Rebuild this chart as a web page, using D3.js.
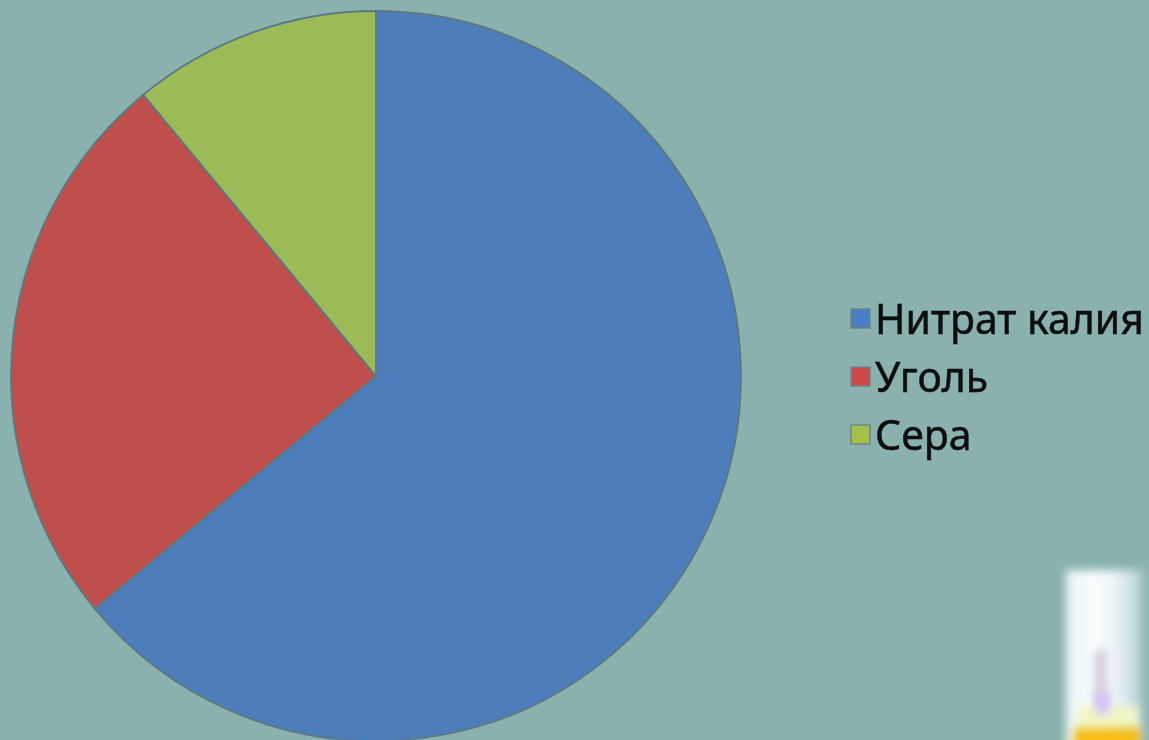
<!DOCTYPE html>
<html lang="ru">
<head>
<meta charset="utf-8">
<script src="https://d3js.org/d3.v7.min.js"></script>
<style>
  html, body { margin: 0; padding: 0; background: #8ab1ad; overflow: hidden; }
  svg { display: block; }
  text { font-family: "Noto Sans", "DejaVu Sans", sans-serif; }
</style>
</head>
<body>
<svg id="chart" width="1149" height="740"></svg>
<script>
// Composition of black powder, share of each component in percent
const categories = ["Нитрат калия", "Уголь", "Сера"];
const shares = [64, 25, 11];
const sliceColors = ["#4d7ebb", "#bf504d", "#9bbb59"];
const swatchColors = ["#4a7fc4", "#cf4a4a", "#a3c048"];

const svg = d3.select("#chart");
const defs = svg.append("defs");

// Soft edges for the legend and the glass cylinder in the corner
defs.append("filter").attr("id", "soft").append("feGaussianBlur").attr("stdDeviation", 0.7);
defs.append("filter").attr("id", "softSlice").append("feGaussianBlur").attr("stdDeviation", 0.7);
defs.append("filter").attr("id", "glow").attr("x", "-40%").attr("y", "-30%").attr("width", "180%").attr("height", "160%")
  .append("feGaussianBlur").attr("stdDeviation", 4);
defs.append("filter").attr("id", "glowSmall").attr("x", "-80%").attr("y", "-40%").attr("width", "260%").attr("height", "180%")
  .append("feGaussianBlur").attr("stdDeviation", 4.5);

// Horizontal shading across the glass: bright on the left, fading to the right
const glassShade = defs.append("linearGradient").attr("id", "glassShade");
glassShade.append("stop").attr("offset", "0%").attr("stop-color", "#e6f4f5");
glassShade.append("stop").attr("offset", "35%").attr("stop-color", "#f8fdfd");
glassShade.append("stop").attr("offset", "60%").attr("stop-color", "#eef5f8");
glassShade.append("stop").attr("offset", "85%").attr("stop-color", "#c8dde3");
glassShade.append("stop").attr("offset", "100%").attr("stop-color", "#93b8b6");

svg.append("rect").attr("width", 1149).attr("height", 740).attr("fill", "#8ab1ad");

// Pie
const pieCenter = [376, 376];
const pieRadius = 365;
const pie = d3.pie().sort(null).value(d => d);
const arc = d3.arc().innerRadius(0).outerRadius(pieRadius);

svg.append("g")
  .attr("transform", `translate(${pieCenter})`)
  .attr("filter", "url(#softSlice)")
  .selectAll("path")
  .data(pie(shares))
  .join("path")
  .attr("d", arc)
  .attr("fill", (d, i) => sliceColors[i])
  .attr("stroke", "#5a7a80")
  .attr("stroke-width", 1.8)
  .attr("stroke-linejoin", "round");

// Legend
const legendRow = d3.scalePoint().domain(categories).range([319, 435]);
const legend = svg.append("g").attr("filter", "url(#soft)");
const rows = legend.selectAll("g")
  .data(categories)
  .join("g")
  .attr("transform", d => `translate(0,${legendRow(d)})`);

rows.append("rect")
  .attr("x", 851).attr("y", -10).attr("width", 19).attr("height", 19)
  .attr("fill", (d, i) => swatchColors[i])
  .attr("stroke", "#6e8488")
  .attr("stroke-width", 1.4);

rows.append("text")
  .attr("x", 875)
  .attr("y", 15)
  .attr("font-size", 41)
  .attr("fill", "#0a0f10")
  .attr("stroke", "#0a0f10")
  .attr("stroke-width", 0.5)
  .text(d => d);

// Glass cylinder with a yellow liquid, cut off by the lower edge
const glass = svg.append("g");
glass.append("rect").attr("x", 1066).attr("y", 570).attr("width", 80).attr("height", 180)
  .attr("fill", "url(#glassShade)").attr("filter", "url(#glow)");
glass.append("rect").attr("x", 1095).attr("y", 650).attr("width", 12).attr("height", 60)
  .attr("fill", "#d3cedd").attr("filter", "url(#glowSmall)");
glass.append("rect").attr("x", 1078).attr("y", 706).attr("width", 60).attr("height", 24)
  .attr("fill", "#f2f6c4").attr("filter", "url(#glowSmall)");
glass.append("rect").attr("x", 1095).attr("y", 692).attr("width", 15).attr("height", 22)
  .attr("fill", "#d4c4f4").attr("filter", "url(#glowSmall)");
glass.append("rect").attr("x", 1074).attr("y", 728).attr("width", 66).attr("height", 25)
  .attr("fill", "#f5bd14").attr("filter", "url(#glowSmall)");
</script>
</body>
</html>
